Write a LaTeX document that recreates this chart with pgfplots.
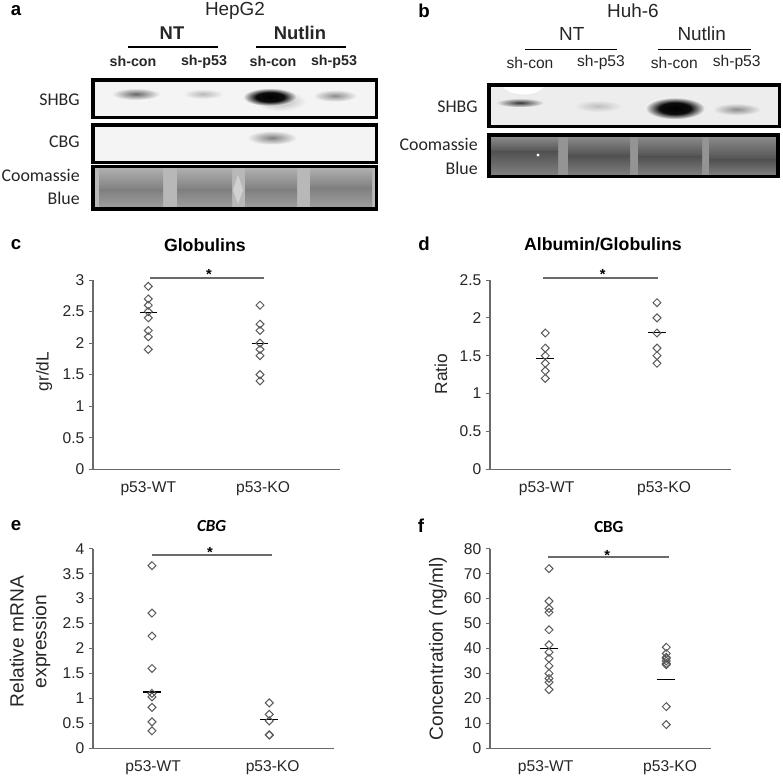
\documentclass[border=0pt]{standalone}
\usepackage{pgfplots}
\usepackage{fontspec}
\pgfplotsset{compat=1.18}
\setmainfont{Liberation Sans}
\newfontfamily\carlito{Carlito}
\definecolor{axisgray}{HTML}{6A6A6A}
\definecolor{ink}{HTML}{262626}
\definecolor{markgray}{HTML}{5A5A5A}
\definecolor{gelbg}{HTML}{F4F4F4}
\pgfdeclareradialshading{blackband}{\pgfpointorigin}{color(0bp)=(black); color(13bp)=(black!95); color(25bp)=(gelbg); color(50bp)=(gelbg)}
% blurred gel band: x, y, half width, half height, colour, background
\newcommand\band[6]{\shade[inner color=#5,outer color=#6] (#1,#2) ellipse [x radius=#3,y radius=#4];}
\newcommand\gel[4]{\draw[black,line width=2.3pt] (#1,#2) rectangle (#3,#4);}
% stained lane: x0, x1, y top, y mid, y bottom, colours top, mid, bottom
\newcommand\lane[8]{\shade[top color=#6,bottom color=#7] (#1,#3) rectangle (#2,#4);\shade[top color=#7,bottom color=#8] (#1,#4) rectangle (#2,#5);}
\pgfplotsset{
  scat/.style={only marks,mark=square,mark size=2.1pt,
    mark options={rotate=45,draw=markgray,line width=0.75pt,fill=none}},
  mean/.style={black,line width=0.9pt,no marks},
  sig/.style={axisgray,line width=1.1pt,no marks},
  panel/.style n args={4}{
    at={({#1*0.75pt},{(776-#4)*0.75pt})},anchor=south west,
    scale only axis,width={(#2-#1)*0.75pt},height={(#4-#3)*0.75pt},
    axis lines=left,axis line style={-,axisgray,line width=0.8pt},
    clip=false,ymin=0,
    tick align=outside,major tick length=3pt,
    x tick style={draw=none},y tick style={axisgray,line width=0.7pt},
    tick label style={text=ink,font=\fontsize{11.7}{13}\selectfont},
    /pgf/number format/assume math mode=true,
    xticklabel style={yshift=-3pt},
    title style={font=\bfseries\fontsize{13.3}{15}\selectfont,text=black,anchor=center},
    ylabel style={text=ink,anchor=center,font=\fontsize{13}{15}\selectfont},
  },
}
\begin{document}
\begin{tikzpicture}
\useasboundingbox (0,0) rectangle (587.25pt,582pt);

% panel c
\begin{axis}[panel={93}{340}{280}{469.3},
  xmin=-0.495,xmax=1.716,ymax=3,ytick={0,0.5,1,1.5,2,2.5,3},
  xtick={0,1.027},xticklabels={p53-WT,p53-KO},
  title={Globulins},title style={at={(axis description cs:0.453,1.144)}},
  ylabel={gr/dL},ylabel style={at={(axis description cs:-0.198,0.516)}}]
\addplot[scat] coordinates {(0,2.9) (0,2.7) (0,2.6) (0,2.5) (0,2.4) (0,2.2) (0,2.1) (0,1.9)};
\addplot[scat] coordinates {(1,2.6) (1,2.3) (1,2.2) (1,2.0) (1,1.9) (1,1.8) (1,1.5) (1,1.4)};
\addplot[mean] coordinates {(-0.075,2.49) (0.075,2.49)};
\addplot[mean] coordinates {(0.925,1.99) (1.075,1.99)};
\addplot[sig] coordinates {(0.015,3.03) (1.036,3.03)};
\end{axis}

% panel d
\begin{axis}[panel={490}{730.7}{280}{469.3},
  xmin=-0.495,xmax=1.66,ymax=2.5,ytick={0,0.5,1,1.5,2,2.5},
  xtick={0.0125,1.063},xticklabels={p53-WT,p53-KO},
  title={Albumin/Globulins},title style={at={(axis description cs:0.469,1.144)}},
  ylabel={Ratio},ylabel style={at={(axis description cs:-0.2036,0.503)}}]
\addplot[scat] coordinates {(0,1.8) (0,1.6) (0,1.5) (0,1.4) (0,1.3) (0,1.2)};
\addplot[scat] coordinates {(1,2.2) (1,2.0) (1,1.8) (1,1.6) (1,1.5) (1,1.4)};
\addplot[mean] coordinates {(-0.079,1.46) (0.079,1.46)};
\addplot[mean] coordinates {(0.921,1.81) (1.079,1.81)};
\addplot[sig] coordinates {(-0.018,2.527) (1.012,2.527)};
\end{axis}

% panel e
\begin{axis}[panel={93}{334}{548.7}{748.3},
  xmin=-0.503,xmax=1.552,ymax=4,ytick={0,0.5,1,1.5,2,2.5,3,3.5,4},
  xtick={0.01,1.029},xticklabels={p53-WT,p53-KO},
  title={\carlito\itshape\fontsize{12.7}{14}\selectfont CBG},title style={at={(axis description cs:0.4925,1.074)}},
  ylabel={Relative mRNA\\expression},
  ylabel style={at={(axis description cs:-0.261,0.534)},align=center,font=\fontsize{14.4}{17}\selectfont}]
\addplot[scat] coordinates {(0,3.66) (0,2.71) (0,2.25) (0,1.6) (0,1.1) (0,1.03) (0,0.82) (0,0.53) (0,0.35)};
\addplot[scat] coordinates {(1,0.91) (1,0.68) (1,0.55) (1,0.27) (1,0.265)};
\addplot[mean] coordinates {(-0.075,1.13) (0.075,1.13)};
\addplot[mean] coordinates {(0.925,0.57) (1.075,0.57)};
\addplot[sig] coordinates {(0,3.87) (1.026,3.87)};
\end{axis}

% panel f
\begin{axis}[panel={490}{711}{548.7}{748.3},
  xmin=-0.503,xmax=1.381,ymax=80,ytick={0,10,20,30,40,50,60,70,80},
  xtick={-0.028,1.032},xticklabels={p53-WT,p53-KO},
  title={\carlito\fontsize{12.7}{14}\selectfont CBG},title style={at={(axis description cs:0.538,1.07)}},
  ylabel={Concentration (ng/ml)},
  ylabel style={at={(axis description cs:-0.235,0.5)},font=\fontsize{14.3}{17}\selectfont}]
\addplot[scat] coordinates {(0,72) (0,59) (0,56) (0,54.5) (0,47.5) (0,41.5) (0,38.5) (0,36) (0,33) (0,30) (0,28) (0,26.5) (0,23.5)};
\addplot[scat] coordinates {(1,40.5) (1,38) (1,36.5) (1,36) (1,35) (1,34) (1,33.5) (1,16.7) (1,9.5)};
\addplot[mean] coordinates {(-0.078,40) (0.078,40)};
\addplot[mean] coordinates {(0.922,27.5) (1.078,27.5)};
\addplot[sig] coordinates {(-0.011,76.6) (1.023,76.6)};
\end{axis}

% everything else in reference pixels, y downwards
\begin{scope}[shift={(0,582pt)},x=0.75pt,y=-0.75pt,text=ink]
\tikzset{lab/.style={font=\bfseries\fontsize{14}{16}\selectfont,text=black},
  head/.style={font=\fontsize{14.2}{16}\selectfont},
  boldhead/.style={font=\bfseries\fontsize{13.8}{16}\selectfont},
  lanea/.style={font=\bfseries\fontsize{10.7}{12}\selectfont},
  laneb/.style={font=\fontsize{11.7}{13}\selectfont},
  side/.style={font=\carlito\fontsize{13.4}{15}\selectfont,anchor=east,inner sep=0pt},
  star/.style={font=\bfseries\fontsize{11}{12}\selectfont,text=black}}

\node[lab] at (16,11) {a};
\node[lab] at (424,11) {b};
\node[lab] at (16,245) {c};
\node[lab] at (424,244) {d};
\node[lab] at (16,526) {e};
\node[lab] at (421,526) {f};

\node[star] at (209,274.5) {*};
\node[star] at (602.7,274.5) {*};
\node[star] at (210,552) {*};
\node[star] at (607.3,555) {*};

% blot a
\node[head] at (235,11) {HepG2};
\node[boldhead] at (172,33) {NT};
\node[boldhead] at (300,33) {Nutlin};
\draw[black,line width=1pt] (127.7,47) -- (217.7,47) (255.7,47) -- (345.7,47);
\node[lanea] at (133,61.7) {sh-con};
\node[lanea] at (204,62) {sh-p53};
\node[lanea] at (273,61) {sh-con};
\node[lanea] at (334,62) {sh-p53};
\node[side] at (80,99.3) {SHBG};
\node[side] at (80,141.7) {CBG};
\node[side] at (80,175) {Coomassie};
\node[side] at (80,198) {Blue};

\fill[gelbg] (93,80) rectangle (376.7,117.3);
\band{136}{94}{24}{6}{black!60}{gelbg}
\band{203}{94}{20}{5}{black!28}{gelbg}
\band{280}{101}{26}{10}{black!30}{gelbg}
\shade[shading=blackband] (270,97) ellipse [x radius=27,y radius=9];
\band{335}{95.7}{22}{6}{black!45}{gelbg}
\gel{93}{80}{376.7}{117.3}

\fill[gelbg] (93,125) rectangle (376.7,162.3);
\band{272}{137.7}{25}{7}{black!50}{gelbg}
\gel{93}{125}{376.7}{162.3}

\fill[black!28] (93,166.7) rectangle (376.7,209);
\lane{99}{163}{169}{190}{207}{black!32}{black!50}{black!38}
\lane{177}{232}{169}{190}{207}{black!32}{black!50}{black!38}
\lane{245}{297}{169}{190}{207}{black!32}{black!50}{black!38}
\lane{310}{372}{169}{188}{207}{black!32}{black!50}{black!38}
\fill[black!18] (233,190) -- (238,175) -- (243,190) -- (238,204) -- cycle;
\gel{93}{166.7}{376.7}{209}

% blot b
\node[head] at (633,11) {Huh-6};
\node[head] at (571.7,34) {NT};
\node[head] at (701.7,34) {Nutlin};
\draw[black,line width=1pt] (525,49.3) -- (617,49.3) (658,49.3) -- (750.7,49.3);
\node[laneb] at (530,62.7) {sh-con};
\node[laneb] at (601,62.7) {sh-p53};
\node[laneb] at (674.3,62.7) {sh-con};
\node[laneb] at (736.7,62.7) {sh-p53};
\node[side] at (478,107) {SHBG};
\node[side] at (478,144) {Coomassie};
\node[side] at (478,168) {Blue};

\fill[black!7] (489,85) rectangle (779.3,126.7);
\fill[white] (501,85) -- (545,85) .. controls (540,97) and (510,98) .. (501,85);
\band{520}{102.7}{24}{4.5}{black!80}{black!7}
\band{598}{106}{24}{6}{black!25}{black!7}
\shade[shading=blackband] (675,108.3) ellipse [x radius=30,y radius=11];
\band{736.7}{109.3}{24}{6}{black!45}{black!7}
\gel{489}{85}{779.3}{126.7}

\fill[black!42] (489,135) rectangle (778,176.7);
\lane{491}{558}{137}{152}{175}{black!46}{black!68}{black!50}
\lane{568}{630}{137}{156}{175}{black!46}{black!68}{black!50}
\lane{638}{702}{137}{157}{175}{black!46}{black!68}{black!50}
\lane{709}{776}{137}{160}{175}{black!46}{black!68}{black!50}
\fill[white] (538,155) circle [radius=1.6];
\gel{489}{135}{778}{176.7}
\end{scope}
\end{tikzpicture}
\end{document}
